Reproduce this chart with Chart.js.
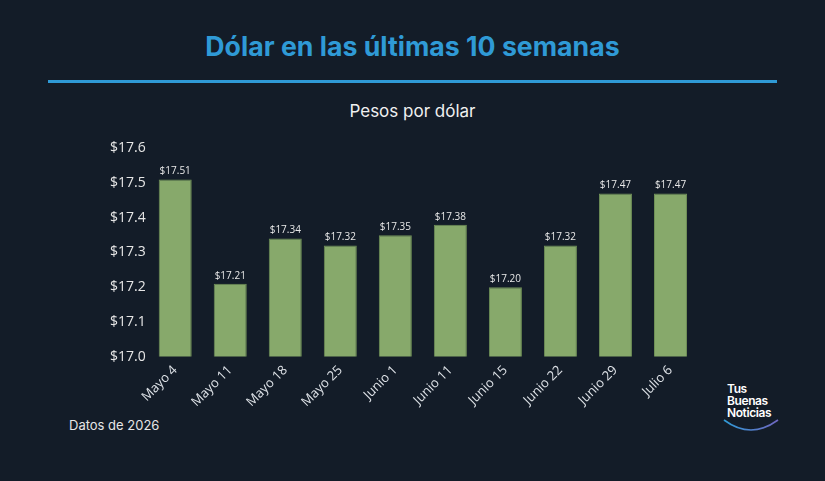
<!DOCTYPE html>
<html>
<head>
<meta charset="utf-8">
<script src="https://cdn.jsdelivr.net/npm/chart.js@4"></script>
<style>
    body { margin: 0; background: #131c28; width: 825px; height: 481px; overflow: hidden; font-family: "Open Sans", sans-serif; }
    #titulo { position: absolute; left: 0; width: 825px; top: 30px; text-align: center; color: #2f9ad6; font: bold 26.7px Inter, sans-serif; }
    #linea { position: absolute; left: 48px; width: 729px; top: 80px; height: 3px; background: #2f9ad6; }
    #subtitulo { position: absolute; left: 0; width: 825px; top: 101px; text-align: center; color: #f0f0f0; font: 17px Inter, sans-serif; }
    #div_chart { position: absolute; left: 108px; top: 138px; width: 600px; height: 278px; }
    #datos { position: absolute; left: 69px; top: 417px; color: #e6e6e6; font: 13px Inter, sans-serif; }
    #logo { position: absolute; left: 727px; top: 383px; color: #fff; font: 600 12px/12px Inter, sans-serif; letter-spacing: -0.4px; }
</style>
</head>
<body>
<div id="titulo">Dólar en las últimas 10 semanas</div>
<div id="linea"></div>
<div id="subtitulo">Pesos por dólar</div>
<div id="div_chart"><canvas id="myChart"></canvas></div>
<div id="datos">Datos de 2026</div>
<div id="logo">Tus<br>Buenas<br>Noticias</div>
<svg style="position:absolute;left:720px;top:416px" width="62" height="20">
    <defs>
        <linearGradient id="g" x1="0" x2="1">
            <stop offset="0" stop-color="#2f9ad6"/>
            <stop offset="1" stop-color="#6f66c0"/>
        </linearGradient>
    </defs>
    <path d="M4 4 Q31 24 58 4" fill="none" stroke="url(#g)" stroke-width="1.6"/>
</svg>
<script>
const semanas = ['Mayo 4', 'Mayo 11', 'Mayo 18', 'Mayo 25', 'Junio 1', 'Junio 11', 'Junio 15', 'Junio 22', 'Junio 29', 'Julio 6'];
const pesos = [17.51, 17.21, 17.34, 17.32, 17.35, 17.38, 17.20, 17.32, 17.47, 17.47];
const ejeY = [17.0, 17.1, 17.2, 17.3, 17.4, 17.5, 17.6];

// etiquetas encima de cada barra
const etiquetas = {
    id: 'etiquetas',
    afterDatasetsDraw(chart) {
        const ctx = chart.ctx;
        const meta = chart.getDatasetMeta(0);
        ctx.save();
        ctx.fillStyle = '#e8e8e8';
        ctx.font = '10px "Open Sans"';
        ctx.textAlign = 'center';
        ctx.textBaseline = 'bottom';
        meta.data.forEach(function (bar, i) {
            ctx.fillText('$' + pesos[i].toFixed(2), bar.x, bar.y - 3);
        });
        ctx.restore();
    }
};

const data = {
    labels: semanas,
    datasets: [{
        data: pesos,
        backgroundColor: '#87a96b',
        borderColor: '#6f8f57',
        borderWidth: 1,
        barPercentage: 0.6,
        categoryPercentage: 1
    }]
};

const config = {
    type: 'bar',
    data: data,
    options: {
        responsive: true,
        maintainAspectRatio: false,
        animation: false,
        layout: { padding: { top: 8, right: 10 } },
        plugins: {
            legend: { display: false },
            tooltip: { enabled: false }
        },
        scales: {
            x: {
                grid: { display: false, drawTicks: false },
                border: { display: false },
                ticks: {
                    color: '#dfe3e8',
                    font: { family: 'Open Sans', size: 13 },
                    padding: 6,
                    minRotation: 45,
                    maxRotation: 45
                }
            },
            y: {
                min: ejeY[0],
                max: ejeY[ejeY.length - 1],
                grid: { display: false, drawTicks: false },
                border: { display: false },
                afterBuildTicks: function (axis) {
                    axis.ticks = ejeY.map(v => ({ value: v }));
                },
                ticks: {
                    color: '#e6e6e6',
                    font: { family: 'Open Sans', size: 14 },
                    padding: 2,
                    callback: v => '$' + v.toFixed(1)
                }
            }
        }
    },
    plugins: [etiquetas]
};

const myChart = new Chart(document.getElementById('myChart'), config);
</script>
</body>
</html>
